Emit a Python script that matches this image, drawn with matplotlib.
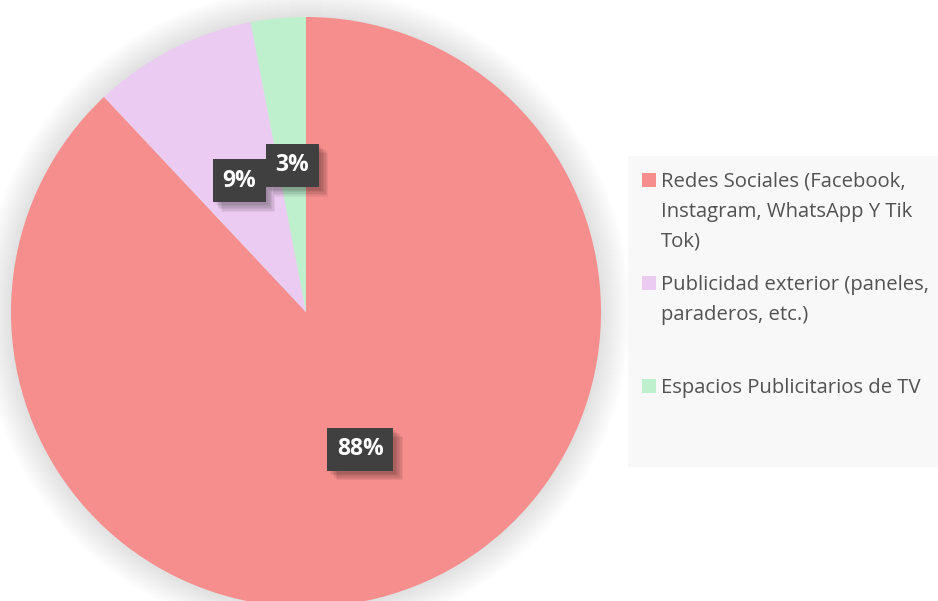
import numpy as np
import matplotlib
matplotlib.use("Agg")
import matplotlib.pyplot as plt
from matplotlib.patches import Circle, Rectangle
from matplotlib import patheffects as pe

# ── data ─────────────────────────────────────────────────────────────────────
labels = [
    "Redes Sociales (Facebook,\nInstagram, WhatsApp Y Tik\nTok)",
    "Publicidad exterior (paneles,\nparaderos, etc.)",
    "Espacios Publicitarios de TV",
]
shares = [88, 9, 3]
colors = ["#F58E8C", "#ECCBF2", "#BFF0CE"]

W, H = 938, 601
TXT = "#525252"

fig = plt.figure(figsize=(W / 100, H / 100), dpi=100, facecolor="white")
ax = fig.add_axes([0, 0, 1, 1])

# pie geometry in pixel units (y measured from bottom)
cx, cy, R = 306, H - 312, 295

# soft outer shadow: stacked faint discs
for k in range(30, 0, -1):
    ax.add_patch(Circle((cx, cy), R + k, fc="black", ec="none",
                        alpha=0.0045, zorder=0))

wedges, _, autotexts = ax.pie(
    shares, colors=colors, startangle=90, counterclock=False,
    center=(cx, cy), radius=R, autopct="%1.0f%%", pctdistance=0.5,
    wedgeprops=dict(linewidth=0),
    textprops=dict(color="white", fontsize=16.5, fontweight="bold",
                   family="Open Sans"),
)
for w in wedges:
    w.set_zorder(2)

# blurred-looking drop shadow for the value boxes
shadow = [pe.SimplePatchShadow(offset=(d, -d), shadow_rgbFace="black", alpha=0.06)
          for d in (7, 6, 5, 4, 3, 2)]
for t in autotexts:
    t.set_zorder(5)
    t.set_bbox(dict(boxstyle="square,pad=0.42", fc="#404040", ec="none"))
    t.get_bbox_patch().set_path_effects(shadow + [pe.Normal()])

ax.set_xlim(0, W)
ax.set_ylim(0, H)
ax.set_aspect("equal")
ax.axis("off")

# ── legend panel ─────────────────────────────────────────────────────────────
ax.add_patch(Rectangle((628, H - 467), W - 628, 467 - 156, fc="#F8F8F8",
                       ec="none", zorder=1))

base_y = [187, 290, 393]
pitch = 30
for lab, col, by in zip(labels, colors, base_y):
    ax.add_patch(Rectangle((642, H - by), 14, 14, fc=col, ec="none", zorder=3))
    for i, line in enumerate(lab.split("\n")):
        ax.text(661, H - (by + i * pitch), line, color=TXT, fontsize=14.6,
                family="Open Sans", ha="left", va="baseline", zorder=3)

fig.savefig("out.png", dpi=100, facecolor="white")
plt.close(fig)
